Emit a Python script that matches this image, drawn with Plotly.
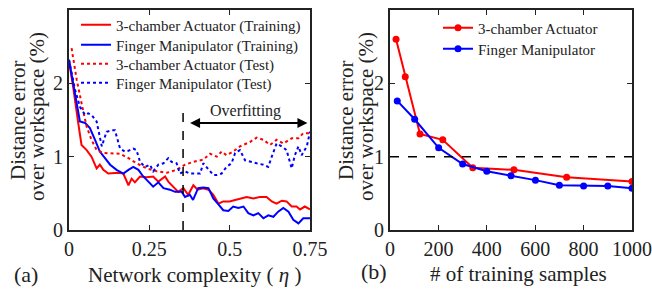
import plotly.graph_objects as go

# ---------------- Panel (a) data ----------------
eta_red_train = [0, 0.013, 0.029, 0.039, 0.055, 0.07, 0.086, 0.096, 0.107, 0.122, 0.154, 0.169, 0.185,
                 0.195, 0.205, 0.221, 0.242, 0.262, 0.278, 0.299, 0.309, 0.325, 0.34, 0.356, 0.371,
                 0.387, 0.40, 0.418, 0.434, 0.449, 0.465, 0.48, 0.50, 0.517, 0.532, 0.553, 0.574,
                 0.594, 0.615, 0.631, 0.646, 0.662, 0.677, 0.693, 0.708, 0.719, 0.734, 0.75]
err_red_train = [2.30, 1.95, 1.45, 1.16, 1.09, 1.00, 0.84, 0.89, 0.82, 0.77, 0.78, 0.77, 0.61,
                 0.70, 0.65, 0.73, 0.72, 0.73, 0.66, 0.73, 0.66, 0.59, 0.52, 0.57, 0.48,
                 0.61, 0.55, 0.57, 0.55, 0.48, 0.36, 0.39, 0.39, 0.41, 0.43, 0.45, 0.43,
                 0.45, 0.45, 0.39, 0.36, 0.40, 0.39, 0.32, 0.32, 0.28, 0.32, 0.28]

eta_blue_train = [0, 0.019, 0.034, 0.05, 0.065, 0.081, 0.096, 0.112, 0.128, 0.148, 0.169, 0.185, 0.2,
                  0.216, 0.231, 0.247, 0.262, 0.278, 0.294, 0.314, 0.33, 0.351, 0.361, 0.376, 0.386,
                  0.402, 0.418, 0.434, 0.449, 0.465, 0.48, 0.496, 0.511, 0.527, 0.543, 0.558, 0.574,
                  0.589, 0.605, 0.62, 0.636, 0.651, 0.667, 0.683, 0.698, 0.714, 0.729, 0.75]
err_blue_train = [2.32, 1.86, 1.48, 1.46, 1.39, 1.23, 1.07, 0.98, 0.89, 0.82, 0.77, 0.82, 0.86,
                  0.82, 0.73, 0.66, 0.59, 0.65, 0.57, 0.55, 0.52, 0.52, 0.45, 0.48, 0.41,
                  0.57, 0.58, 0.57, 0.43, 0.35, 0.27, 0.26, 0.32, 0.30, 0.32, 0.23, 0.20,
                  0.23, 0.16, 0.20, 0.18, 0.25, 0.30, 0.25, 0.14, 0.09, 0.16, 0.16]

eta_red_test = [0.008, 0.024, 0.039, 0.055, 0.07, 0.086, 0.107, 0.133, 0.159, 0.185, 0.21, 0.242,
                0.273, 0.304, 0.335, 0.361, 0.387, 0.418, 0.439, 0.46, 0.475, 0.49, 0.511, 0.532,
                0.563, 0.584, 0.605, 0.626, 0.646, 0.667, 0.693, 0.714, 0.729, 0.75]
err_red_test = [2.48, 2.05, 1.73, 1.41, 1.23, 1.09, 1.05, 1.05, 1.04, 0.98, 0.91, 0.84,
                0.80, 0.78, 0.82, 0.89, 0.93, 0.96, 1.04, 1.00, 1.07, 1.02, 1.07, 1.14,
                1.20, 1.26, 1.23, 1.16, 1.23, 1.18, 1.25, 1.25, 1.32, 1.32]

eta_blue_test = [0, 0.019, 0.034, 0.05, 0.06, 0.07, 0.086, 0.102, 0.117, 0.133, 0.143, 0.159, 0.174,
                 0.185, 0.2, 0.21, 0.221, 0.236, 0.252, 0.262, 0.278, 0.294, 0.309, 0.319, 0.335,
                 0.345, 0.361, 0.376, 0.392, 0.408, 0.418, 0.434, 0.449, 0.46, 0.475, 0.49, 0.506,
                 0.517, 0.532, 0.548, 0.563, 0.584, 0.605, 0.62, 0.631, 0.646, 0.662, 0.677, 0.693,
                 0.703, 0.714, 0.724, 0.74, 0.75]
err_blue_test = [2.32, 1.91, 1.68, 1.57, 1.59, 1.57, 1.48, 1.14, 1.34, 1.36, 1.36, 1.11, 1.07,
                 1.08, 1.11, 1.09, 0.93, 0.86, 0.89, 0.80, 0.89, 0.91, 0.98, 0.93, 0.91,
                 0.77, 0.80, 0.77, 0.77, 0.77, 0.91, 0.82, 0.75, 0.75, 0.77, 0.86, 0.91,
                 1.05, 1.09, 0.95, 0.93, 0.91, 0.89, 0.86, 1.00, 1.18, 1.14, 1.09, 0.84,
                 1.02, 1.14, 1.02, 1.14, 1.34]

# ---------------- Panel (b) data ----------------
samples_red = [25, 63, 124, 218, 342, 512, 730, 1000]
err_red_samples = [2.60, 2.09, 1.31, 1.23, 0.85, 0.82, 0.72, 0.66]
samples_blue = [30, 102, 201, 300, 400, 500, 601, 700, 800, 900, 1000]
err_blue_samples = [1.76, 1.51, 1.12, 0.90, 0.80, 0.74, 0.68, 0.61, 0.60, 0.60, 0.57]

x_ticks_a = [0, 0.25, 0.5, 0.75]
x_ticklabels_a = ["0", "0.25", "0.5", "0.75"]
x_ticks_b = [0, 200, 400, 600, 800, 1000]
y_ticks = [0, 1, 2, 3]

overfit_eta = 0.355
threshold = 1.0

RED = "#ff0000"
BLUE = "#0000ff"
FONT = "Liberation Serif"
W, H = 652, 291

def px(x):
    return x / W

def py(y):
    return 1 - y / H

fig = go.Figure()

left_series = [
    (eta_red_train, err_red_train, RED, "solid", "3-chamber Actuator (Training)"),
    (eta_blue_train, err_blue_train, BLUE, "solid", "Finger Manipulator (Training)"),
    (eta_red_test, err_red_test, RED, "dot", "3-chamber Actuator (Test)"),
    (eta_blue_test, err_blue_test, BLUE, "dot", "Finger Manipulator (Test)"),
]
left_rows = [25, 45, 64, 83]
legend_names = ["legend", "legend2", "legend3", "legend4", "legend5", "legend6"]

legend_layouts = {}
for i, ((xs, ys, col, dash, name), row) in enumerate(zip(left_series, left_rows)):
    lg = legend_names[i]
    fig.add_trace(go.Scatter(x=xs, y=ys, mode="lines", line=dict(color=col, width=2, dash=dash),
                             name=name, xaxis="x", yaxis="y", legend=lg))
    legend_layouts[lg] = dict(x=px(76), y=py(row), xanchor="left", yanchor="middle",
                              bgcolor="rgba(0,0,0,0)", font=dict(family=FONT, size=15, color="#222"),
                              itemwidth=30)

right_series = [
    (samples_red, err_red_samples, RED, "3-chamber Actuator"),
    (samples_blue, err_blue_samples, BLUE, "Finger Manipulator"),
]
right_rows = [28, 49]
for j, ((xs, ys, col, name), row) in enumerate(zip(right_series, right_rows)):
    lg = legend_names[4 + j]
    fig.add_trace(go.Scatter(x=xs, y=ys, mode="lines+markers", line=dict(color=col, width=2),
                             marker=dict(color=col, size=7), name=name,
                             xaxis="x2", yaxis="y2", legend=lg))
    legend_layouts[lg] = dict(x=px(438), y=py(row), xanchor="left", yanchor="middle",
                              bgcolor="rgba(0,0,0,0)", font=dict(family=FONT, size=15, color="#222"),
                              itemwidth=30)

axis_common = dict(showline=True, linecolor="#222", linewidth=2, mirror="allticks",
                   ticks="inside", ticklen=5, tickcolor="#222", tickwidth=1,
                   showgrid=False, zeroline=False, automargin=False,
                   tickfont=dict(family=FONT, size=20, color="#222"))

fig.update_layout(
    width=W, height=H, autosize=False,
    margin=dict(l=0, r=0, t=0, b=0, autoexpand=False),
    paper_bgcolor="white", plot_bgcolor="white",
    font=dict(family=FONT, color="#222"),
    xaxis=dict(domain=[px(69), px(310)], range=[0, 0.75], tickvals=x_ticks_a,
               ticktext=x_ticklabels_a, anchor="y", **axis_common),
    yaxis=dict(domain=[py(230), py(10)], range=[0, 3], tickvals=y_ticks, anchor="x",
               **axis_common),
    xaxis2=dict(domain=[px(390), px(632)], range=[0, 1000], tickvals=x_ticks_b, anchor="y2",
                **axis_common),
    yaxis2=dict(domain=[py(230), py(10)], range=[0, 3], tickvals=y_ticks, anchor="x2",
                **axis_common),
    showlegend=True,
    **legend_layouts,
)

# Overfitting marker line and arrow (panel a)
fig.add_shape(type="line", xref="x", yref="y", x0=overfit_eta, x1=overfit_eta, y0=0, y1=1.6,
              line=dict(color="black", width=1.5, dash="dash"))
fig.add_annotation(xref="x", yref="y", axref="x", ayref="y", x=0.742, y=1.46,
                   ax=0.372, ay=1.46, text="", showarrow=True, arrowhead=2,
                   arrowside="end+start", arrowsize=1, arrowwidth=2, arrowcolor="black")
fig.add_annotation(xref="x", yref="y", x=0.548, y=1.62, text="Overfitting", showarrow=False,
                   font=dict(family=FONT, size=16, color="#222"))

# Threshold line (panel b)
fig.add_shape(type="line", xref="x2", yref="y2", x0=0, x1=1000, y0=threshold, y1=threshold,
              line=dict(color="black", width=1.5, dash="dash"))

# Y-axis titles (two lines each)
for x_l1, x_l2 in [(18, 37), (346, 366)]:
    fig.add_annotation(xref="paper", yref="paper", x=px(x_l1), y=py(120), text="Distance error",
                       textangle=-90, showarrow=False, xanchor="center", yanchor="middle",
                       font=dict(family=FONT, size=21, color="#222"))
    fig.add_annotation(xref="paper", yref="paper", x=px(x_l2), y=py(117),
                       text="over workspace (%)", textangle=-90, showarrow=False,
                       xanchor="center", yanchor="middle",
                       font=dict(family=FONT, size=21, color="#222"))

# X-axis titles
fig.add_annotation(xref="paper", yref="paper", x=px(194), y=py(275),
                   text="Network complexity ( <i>η</i> )", showarrow=False,
                   xanchor="center", yanchor="middle", font=dict(family=FONT, size=21, color="#222"))
fig.add_annotation(xref="paper", yref="paper", x=px(518), y=py(274),
                   text="# of training samples", showarrow=False,
                   xanchor="center", yanchor="middle", font=dict(family=FONT, size=21, color="#222"))

# Panel labels
fig.add_annotation(xref="paper", yref="paper", x=px(26), y=py(274), text="(a)", showarrow=False,
                   xanchor="center", yanchor="middle", font=dict(family=FONT, size=22, color="#222"))
fig.add_annotation(xref="paper", yref="paper", x=px(374), y=py(271), text="(b)", showarrow=False,
                   xanchor="center", yanchor="middle", font=dict(family=FONT, size=22, color="#222"))

fig.write_html("out.html", config={"displayModeBar": False},
               post_script="document.body.style.margin='0';")
